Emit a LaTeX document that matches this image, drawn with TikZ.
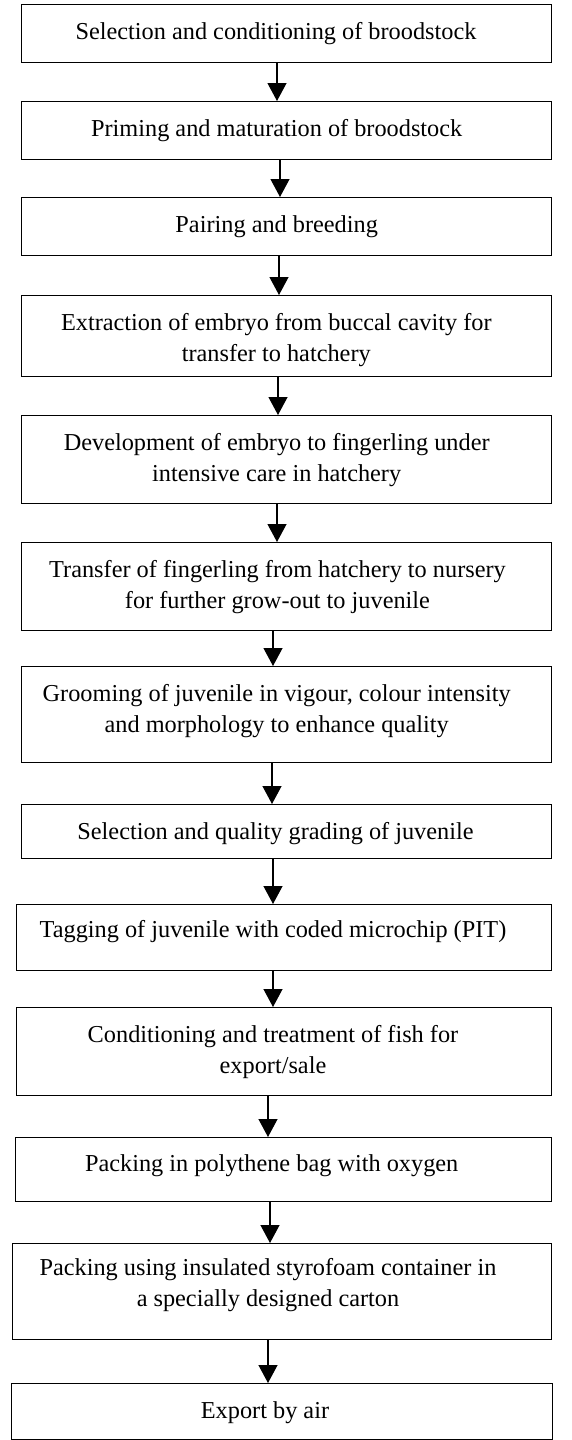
\documentclass[tikz,border=0pt]{standalone}
\usepackage{fontspec}
\setmainfont{Liberation Serif}
\usetikzlibrary{arrows.meta}
\begin{document}
\begin{tikzpicture}[x=1pt,y=1pt,
  stepbox/.style={draw=black, line width=1.3pt, rectangle, inner sep=0pt, anchor=north west},
  lbl/.style={inner sep=0pt, anchor=north, align=center, font=\fontsize{24.3}{31}\selectfont},
  arr/.style={draw=black, line width=1.2pt, -{Triangle[length=18pt,width=19pt]}}]
\useasboundingbox (0,0) rectangle (571,-1440);
\clip (0,0) rectangle (571,-1440);
% boxes: placed by top-left corner
\node[stepbox, minimum width=530pt, minimum height=58pt] (b1) at (21,-4) {};
\node[stepbox, minimum width=530pt, minimum height=58pt] (b2) at (21,-101) {};
\node[stepbox, minimum width=530pt, minimum height=58pt] (b3) at (21,-197) {};
\node[stepbox, minimum width=530pt, minimum height=81pt] (b4) at (21,-295) {};
\node[stepbox, minimum width=530pt, minimum height=88pt] (b5) at (21,-415) {};
\node[stepbox, minimum width=530pt, minimum height=88pt] (b6) at (21,-542) {};
\node[stepbox, minimum width=530pt, minimum height=96pt] (b7) at (21,-666) {};
\node[stepbox, minimum width=530pt, minimum height=54pt] (b8) at (21,-804) {};
\node[stepbox, minimum width=535pt, minimum height=66pt] (b9) at (16,-904) {};
\node[stepbox, minimum width=535pt, minimum height=88pt] (b10) at (16,-1007) {};
\node[stepbox, minimum width=536pt, minimum height=64pt] (b11) at (15,-1137) {};
\node[stepbox, minimum width=539.3pt, minimum height=96pt] (b12) at (11.7,-1243) {};
\node[stepbox, minimum width=541.3pt, minimum height=56pt] (b13) at (10.7,-1383) {};
% labels
\node[lbl] (t1) at ([shift={(255,-13.3)}]b1.north west) {\strut Selection and conditioning of broodstock};
\node[lbl] (t2) at ([shift={(255.7,-13.3)}]b2.north west) {\strut Priming and maturation of broodstock};
\node[lbl] (t3) at ([shift={(255.7,-13.3)}]b3.north west) {\strut Pairing and breeding};
\node[lbl] (t4) at ([shift={(255.3,-13.3)}]b4.north west) {\strut Extraction of embryo from buccal cavity for\\transfer to hatchery};
\node[lbl] (t5) at ([shift={(255.7,-13.3)}]b5.north west) {\strut Development of embryo to fingerling under\\intensive care in hatchery};
\node[lbl] (t6) at ([shift={(256.5,-13.3)}]b6.north west) {\strut Transfer of fingerling from hatchery to nursery\\for further grow-out to juvenile};
\node[lbl] (t7) at ([shift={(255.7,-13.3)}]b7.north west) {\strut Grooming of juvenile in vigour, colour intensity\\and morphology to enhance quality};
\node[lbl] (t8) at ([shift={(254.5,-13.3)}]b8.north west) {\strut Selection and quality grading of juvenile};
\node[lbl] (t9) at ([shift={(257,-11.3)}]b9.north west) {\strut Tagging of juvenile with coded microchip (PIT)};
\node[lbl] (t10) at ([shift={(257,-13.3)}]b10.north west) {\strut Conditioning and treatment of fish for\\export/sale};
\node[lbl] (t11) at ([shift={(256.7,-12.3)}]b11.north west) {\strut Packing in polythene bag with oxygen};
\node[lbl] (t12) at ([shift={(256.3,-10.3)}]b12.north west) {\strut Packing using insulated styrofoam container in\\a specially designed carton};
\node[lbl] (t13) at ([shift={(254.3,-13.3)}]b13.north west) {\strut Export by air};
% arrows
\draw[arr] ([xshift=256pt]b1.south west) -- ([xshift=256pt]b2.north west);
\draw[arr] ([xshift=259pt]b2.south west) -- ([xshift=259pt]b3.north west);
\draw[arr] ([xshift=258pt]b3.south west) -- ([xshift=258pt]b4.north west);
\draw[arr] ([xshift=257pt]b4.south west) -- ([xshift=257pt]b5.north west);
\draw[arr] ([xshift=256pt]b5.south west) -- ([xshift=256pt]b6.north west);
\draw[arr] ([xshift=252pt]b6.south west) -- ([xshift=252pt]b7.north west);
\draw[arr] ([xshift=251pt]b7.south west) -- ([xshift=251pt]b8.north west);
\draw[arr] ([xshift=252pt]b8.south west) -- ([xshift=257pt]b9.north west);
\draw[arr] ([xshift=257pt]b9.south west) -- ([xshift=257pt]b10.north west);
\draw[arr] ([xshift=252pt]b10.south west) -- ([xshift=253pt]b11.north west);
\draw[arr] ([xshift=255pt]b11.south west) -- ([xshift=258.3pt]b12.north west);
\draw[arr] ([xshift=256.3pt]b12.south west) -- ([xshift=257.3pt]b13.north west);
\end{tikzpicture}
\end{document}
